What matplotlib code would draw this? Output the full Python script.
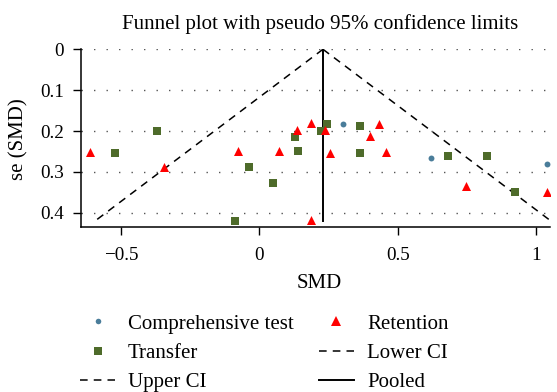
import matplotlib
matplotlib.use("Agg")
import matplotlib.pyplot as plt
from matplotlib.lines import Line2D
import numpy as np

plt.rcParams['font.family'] = ['Liberation Serif', 'DejaVu Serif']

# Data
comp_smd = [0.302, 0.622, 1.040]
comp_se = [0.183, 0.266, 0.280]

transfer_smd = [-0.521, -0.371, -0.088, -0.037, 0.049, 0.129, 0.141, 0.222,
                0.243, 0.364, 0.364, 0.682, 0.823, 0.924]
transfer_se = [0.253, 0.199, 0.419, 0.287, 0.326, 0.214, 0.250, 0.199,
               0.183, 0.188, 0.253, 0.262, 0.262, 0.349]

retention_smd = [-0.612, -0.344, -0.076, 0.072, 0.136, 0.186, 0.186, 0.237,
                 0.256, 0.399, 0.431, 0.456, 0.747, 1.040]
retention_se = [0.251, 0.287, 0.248, 0.248, 0.197, 0.181, 0.417, 0.197,
                0.253, 0.212, 0.183, 0.251, 0.334, 0.349]

pooled = 0.230
se_max = 0.421
yticks = [0, 0.1, 0.2, 0.3, 0.4]
ytick_labels = ['0', '0.1', '0.2', '0.3', '0.4']
xticks = [-0.5, 0, 0.5, 1]
xtick_labels = ['\u22120.5', '0', '0.5', '1']

W, H = 557, 392
fig = plt.figure(figsize=(W / 100, H / 100), dpi=100)
ax = fig.add_axes([80.7 / W, 1 - 226.7 / H, (550 - 80.7) / W, (226.7 - 49.3) / H])

ax.set_xlim(-0.645, 1.05)
ax.set_ylim(0.434, 0)

for y in yticks:
    ax.axhline(y, color='#555555', lw=1.0, ls=(0, (1, 8)), zorder=0)

se_line = np.array([0, se_max])
ax.plot(pooled - 1.96 * se_line, se_line, color='black', lw=1.1, ls=(0, (5, 4)), zorder=1)
ax.plot(pooled + 1.96 * se_line, se_line, color='black', lw=1.1, ls=(0, (5, 4)), zorder=1)
ax.plot([pooled, pooled], se_line, color='black', lw=1.4, zorder=1)

ax.scatter(comp_smd, comp_se, s=18, marker='o', color='#4a7d9a', zorder=3, linewidths=0)
ax.scatter(transfer_smd, transfer_se, s=34, marker='s', color='#4e6b2a', zorder=3, linewidths=0)
ax.scatter(retention_smd, retention_se, s=42, marker='^', color='#ff0000', zorder=3, linewidths=0)

ax.set_xticks(xticks)
ax.set_xticklabels(xtick_labels)
ax.set_yticks(yticks)
ax.set_yticklabels(ytick_labels)
ax.tick_params(axis='both', labelsize=13.8, direction='out', length=6, width=1, colors='black')
ax.tick_params(axis='x', pad=8.5)
ax.tick_params(axis='y', pad=6)
for s in ['top', 'right']:
    ax.spines[s].set_visible(False)
for s in ['left', 'bottom']:
    ax.spines[s].set_linewidth(1.1)

fig.text(320 / W, 1 - 29.3 / H, 'Funnel plot with pseudo 95% confidence limits',
         ha='center', va='baseline', fontsize=15)
fig.text(319 / W, 1 - 288 / H, 'SMD', ha='center', va='baseline', fontsize=15)
fig.text(19 / W, 1 - 139 / H, 'se (SMD)', ha='center', va='center', rotation=90, fontsize=15)

handles = [
    Line2D([], [], ls='none', marker='o', color='#4a7d9a', markersize=4, markeredgewidth=0),
    Line2D([], [], ls='none', marker='s', color='#4e6b2a', markersize=5.5, markeredgewidth=0),
    Line2D([], [], color='black', lw=1.1, ls=(0, (5, 4))),
    Line2D([], [], ls='none', marker='^', color='#ff0000', markersize=6.5, markeredgewidth=0),
    Line2D([], [], color='black', lw=1.1, ls=(0, (5, 4))),
    Line2D([], [], color='black', lw=1.4),
]
labels = ['Comprehensive test', 'Transfer', 'Upper CI', 'Retention', 'Lower CI', 'Pooled']
fig.legend(handles, labels, loc='upper left', bbox_to_anchor=(80 / W, 1 - 314 / H),
           ncol=2, frameon=False, fontsize=15, handlelength=1.68, handletextpad=0.63,
           columnspacing=1.2, labelspacing=0.47, borderpad=0, borderaxespad=0)

fig.savefig('out.png', dpi=100)
